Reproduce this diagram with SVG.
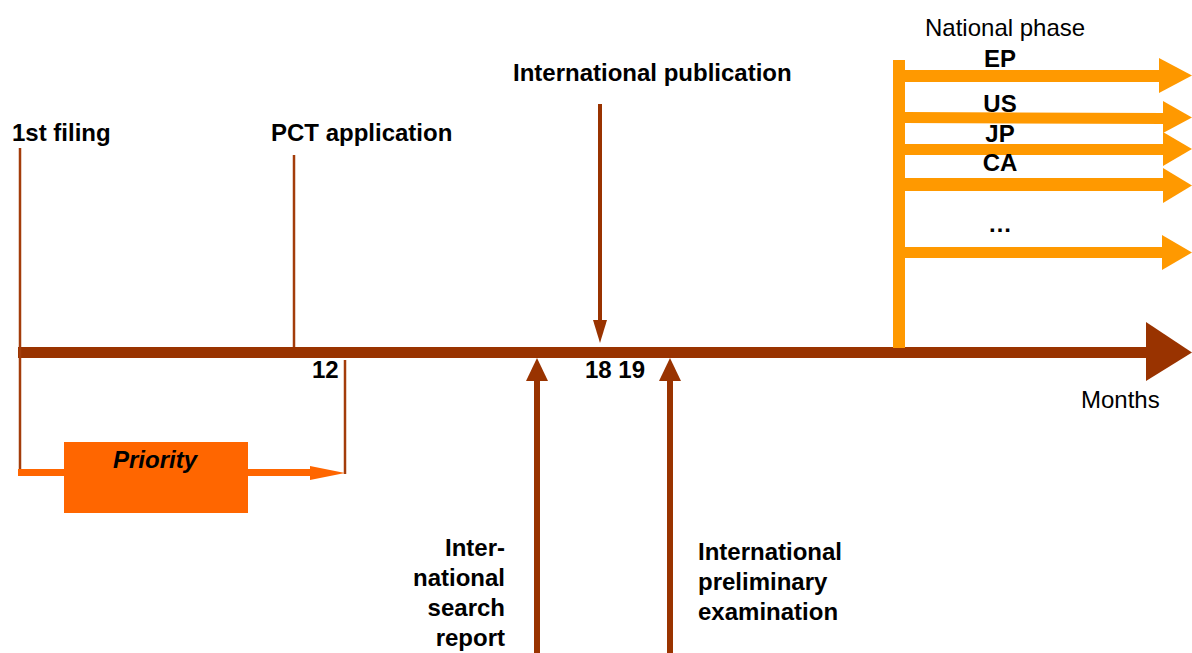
<svg xmlns="http://www.w3.org/2000/svg" width="1192" height="653" viewBox="0 0 1192 653">
<style>
.b{font-family:"Liberation Sans",Arial,sans-serif;font-weight:bold;font-size:24px;fill:#000}
.n{font-family:"Liberation Sans",Arial,sans-serif;font-size:24px;fill:#000}
.brown{fill:#993300}
.org{fill:#ff9900}
.thin{stroke:#a33c0a;stroke-width:2.5;fill:none}
</style>
<rect width="1192" height="653" fill="#fff"/>
<g id="axis">
<rect class="brown" x="18" y="347" width="1132" height="11"/>
<polygon class="brown" points="1146,322 1192,352.5 1146,381"/>
<text class="n" x="1081" y="408">Months</text>
</g>
<g id="first-filing">
<line class="thin" x1="20" y1="148" x2="20" y2="470"/>
<text class="b" x="12" y="141">1st filing</text>
</g>
<g id="pct">
<line class="thin" x1="294" y1="155" x2="294" y2="347"/>
<text class="b" x="271" y="141">PCT application</text>
<text class="b" x="312" y="378">12</text>
</g>
<g id="priority">
<line class="thin" x1="345" y1="360" x2="345" y2="474"/>
<rect x="18" y="469" width="294" height="7" fill="#ff6600"/>
<polygon points="310,466 345,473 310,480" fill="#ff6600"/>
<rect x="64" y="442" width="184" height="71" fill="#ff6600"/>
<text class="b" x="155" y="468" text-anchor="middle" font-style="italic">Priority</text>
</g>
<g id="publication">
<text class="b" x="513" y="81">International publication</text>
<rect class="brown" x="598" y="104" width="4" height="220"/>
<polygon class="brown" points="593,320 607,320 600,343"/>
<text class="b" x="585" y="378">18 19</text>
</g>
<g id="isr">
<rect class="brown" x="534" y="378" width="6" height="275"/>
<polygon class="brown" points="526,381 548,381 537,358"/>
<text class="b" text-anchor="end"><tspan x="505" y="556">Inter-</tspan><tspan x="505" y="586">national</tspan><tspan x="505" y="616">search</tspan><tspan x="505" y="646">report</tspan></text>
</g>
<g id="ipe">
<rect class="brown" x="667" y="378" width="6" height="275"/>
<polygon class="brown" points="659,381 681,381 670,358"/>
<text class="b"><tspan x="698" y="560">International</tspan><tspan x="698" y="590">preliminary</tspan><tspan x="698" y="620">examination</tspan></text>
</g>
<g id="national-phase">
<text class="n" x="925" y="36">National phase</text>
<rect class="org" x="893" y="60" width="12" height="288"/>
<rect class="org" x="905" y="70" width="256" height="12"/>
<polygon class="org" points="1159,58 1192,75.5 1159,93"/>
<polygon class="org" points="905,112 1164,113 1164,124 905,123"/>
<polygon class="org" points="1163,101 1192,117.5 1163,133"/>
<rect class="org" x="905" y="144" width="258" height="11"/>
<polygon class="org" points="1163,132 1192,149 1163,166"/>
<rect class="org" x="905" y="178" width="260" height="13"/>
<polygon class="org" points="1163,168 1192,185.5 1163,203"/>
<rect class="org" x="905" y="247" width="258" height="11"/>
<polygon class="org" points="1162,235 1192,252.5 1162,270"/>
<g class="b" text-anchor="middle">
<text x="1000" y="67">EP</text>
<text x="1000" y="112">US</text>
<text x="1000" y="142">JP</text>
<text x="1000" y="171">CA</text>
<text x="1000" y="232">…</text>
</g>
</g>
</svg>
